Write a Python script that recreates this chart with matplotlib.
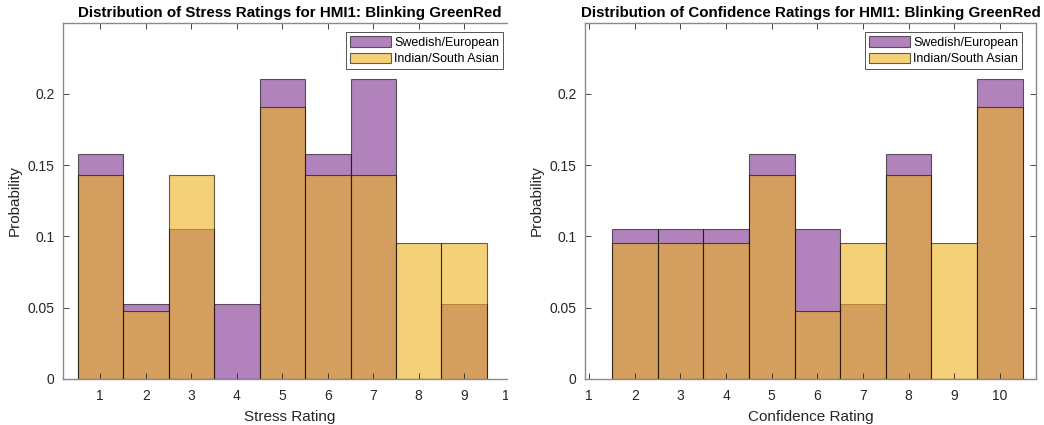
import matplotlib as mpl
import matplotlib.pyplot as plt
from matplotlib.patches import Rectangle

mpl.use('Agg')

plt.rcParams['font.family'] = ['Liberation Sans', 'DejaVu Sans']

# probabilities per rating, one list per group
stress_ratings = [1, 2, 3, 4, 5, 6, 7, 8, 9]
stress_swedish = [0.1579, 0.0526, 0.1053, 0.0526, 0.2105, 0.1579, 0.2105, 0.0, 0.0526]
stress_indian = [0.1429, 0.0476, 0.1429, 0.0, 0.1905, 0.1429, 0.1429, 0.0952, 0.0952]

conf_ratings = [2, 3, 4, 5, 6, 7, 8, 9, 10]
conf_swedish = [0.1053, 0.1053, 0.1053, 0.1579, 0.1053, 0.0526, 0.1579, 0.0, 0.2105]
conf_indian = [0.0952, 0.0952, 0.0952, 0.1429, 0.0476, 0.0952, 0.1429, 0.0952, 0.1905]

group_names = ['Swedish/European', 'Indian/South Asian']
y_ticks = [0, 0.05, 0.1, 0.15, 0.2]
x_ticks = list(range(1, 11))

purple = (0.494, 0.184, 0.556)
yellow = (0.929, 0.694, 0.125)
txt = '#262626'

W, H = 1044, 425
fig = plt.figure(figsize=(W / 100, H / 100), dpi=100)


def px_axes(left, right, top, bottom):
    return fig.add_axes([left / W, 1 - bottom / H, (right - left) / W, (bottom - top) / H])


def draw_panel(ax, ratings, swe, ind, xlim, title, xlabel):
    ax.bar(ratings, swe, width=1.0, color=purple, alpha=0.6,
           edgecolor='black', linewidth=0.8, label=group_names[0])
    ax.bar(ratings, ind, width=1.0, color=yellow, alpha=0.6,
           edgecolor='black', linewidth=0.8, label=group_names[1])
    ax.set_xlim(*xlim)
    ax.set_ylim(0, 0.25)
    ax.set_xticks(x_ticks)
    ax.set_xticklabels([str(t) for t in x_ticks])
    ax.set_yticks(y_ticks)
    ax.set_yticklabels(['%g' % t for t in y_ticks])
    ax.tick_params(direction='in', top=True, right=True, length=4, width=0.6,
                   colors=txt, labelsize=10, pad=6)
    ax.tick_params(axis='x', pad=7)
    for s in ax.spines.values():
        s.set_color('#8a8a8a')
        s.set_linewidth(1.0)
    ax.set_title(title, fontsize=10.9, fontweight='bold', pad=4, color='black')
    ax.set_xlabel(xlabel, fontsize=11, color=txt, labelpad=5)
    ax.set_ylabel('Probability', fontsize=11, color=txt, labelpad=4)
    leg = ax.legend(loc='upper right', bbox_to_anchor=(0.969, 0.973), borderaxespad=0,
                    fontsize=9, frameon=True, fancybox=False, handlelength=3.3,
                    handleheight=0.95, handletextpad=0.25, labelspacing=0.3,
                    borderpad=0.3)
    leg.get_frame().set_edgecolor('#262626')
    leg.get_frame().set_linewidth(0.7)
    for h in leg.legend_handles:
        h.set_edgecolor('black')
    return ax


ax1 = px_axes(63, 517, 22.7, 379)
draw_panel(ax1, stress_ratings, stress_swedish, stress_indian, (0.18, 10.16),
           'Distribution of Stress Ratings for HMI1: Blinking GreenRed', 'Stress Rating')

ax2 = px_axes(585, 1036, 22.7, 379)
draw_panel(ax2, conf_ratings, conf_swedish, conf_indian, (0.91, 10.79),
           'Distribution of Confidence Ratings for HMI1: Blinking GreenRed', 'Confidence Rating')

# the left panel ends where its image was cut off
fig.add_artist(Rectangle((508 / W, 0), 12 / W, 1, transform=fig.transFigure,
                         facecolor='white', edgecolor='none', zorder=5))

plt.savefig('out.png', dpi=100)
